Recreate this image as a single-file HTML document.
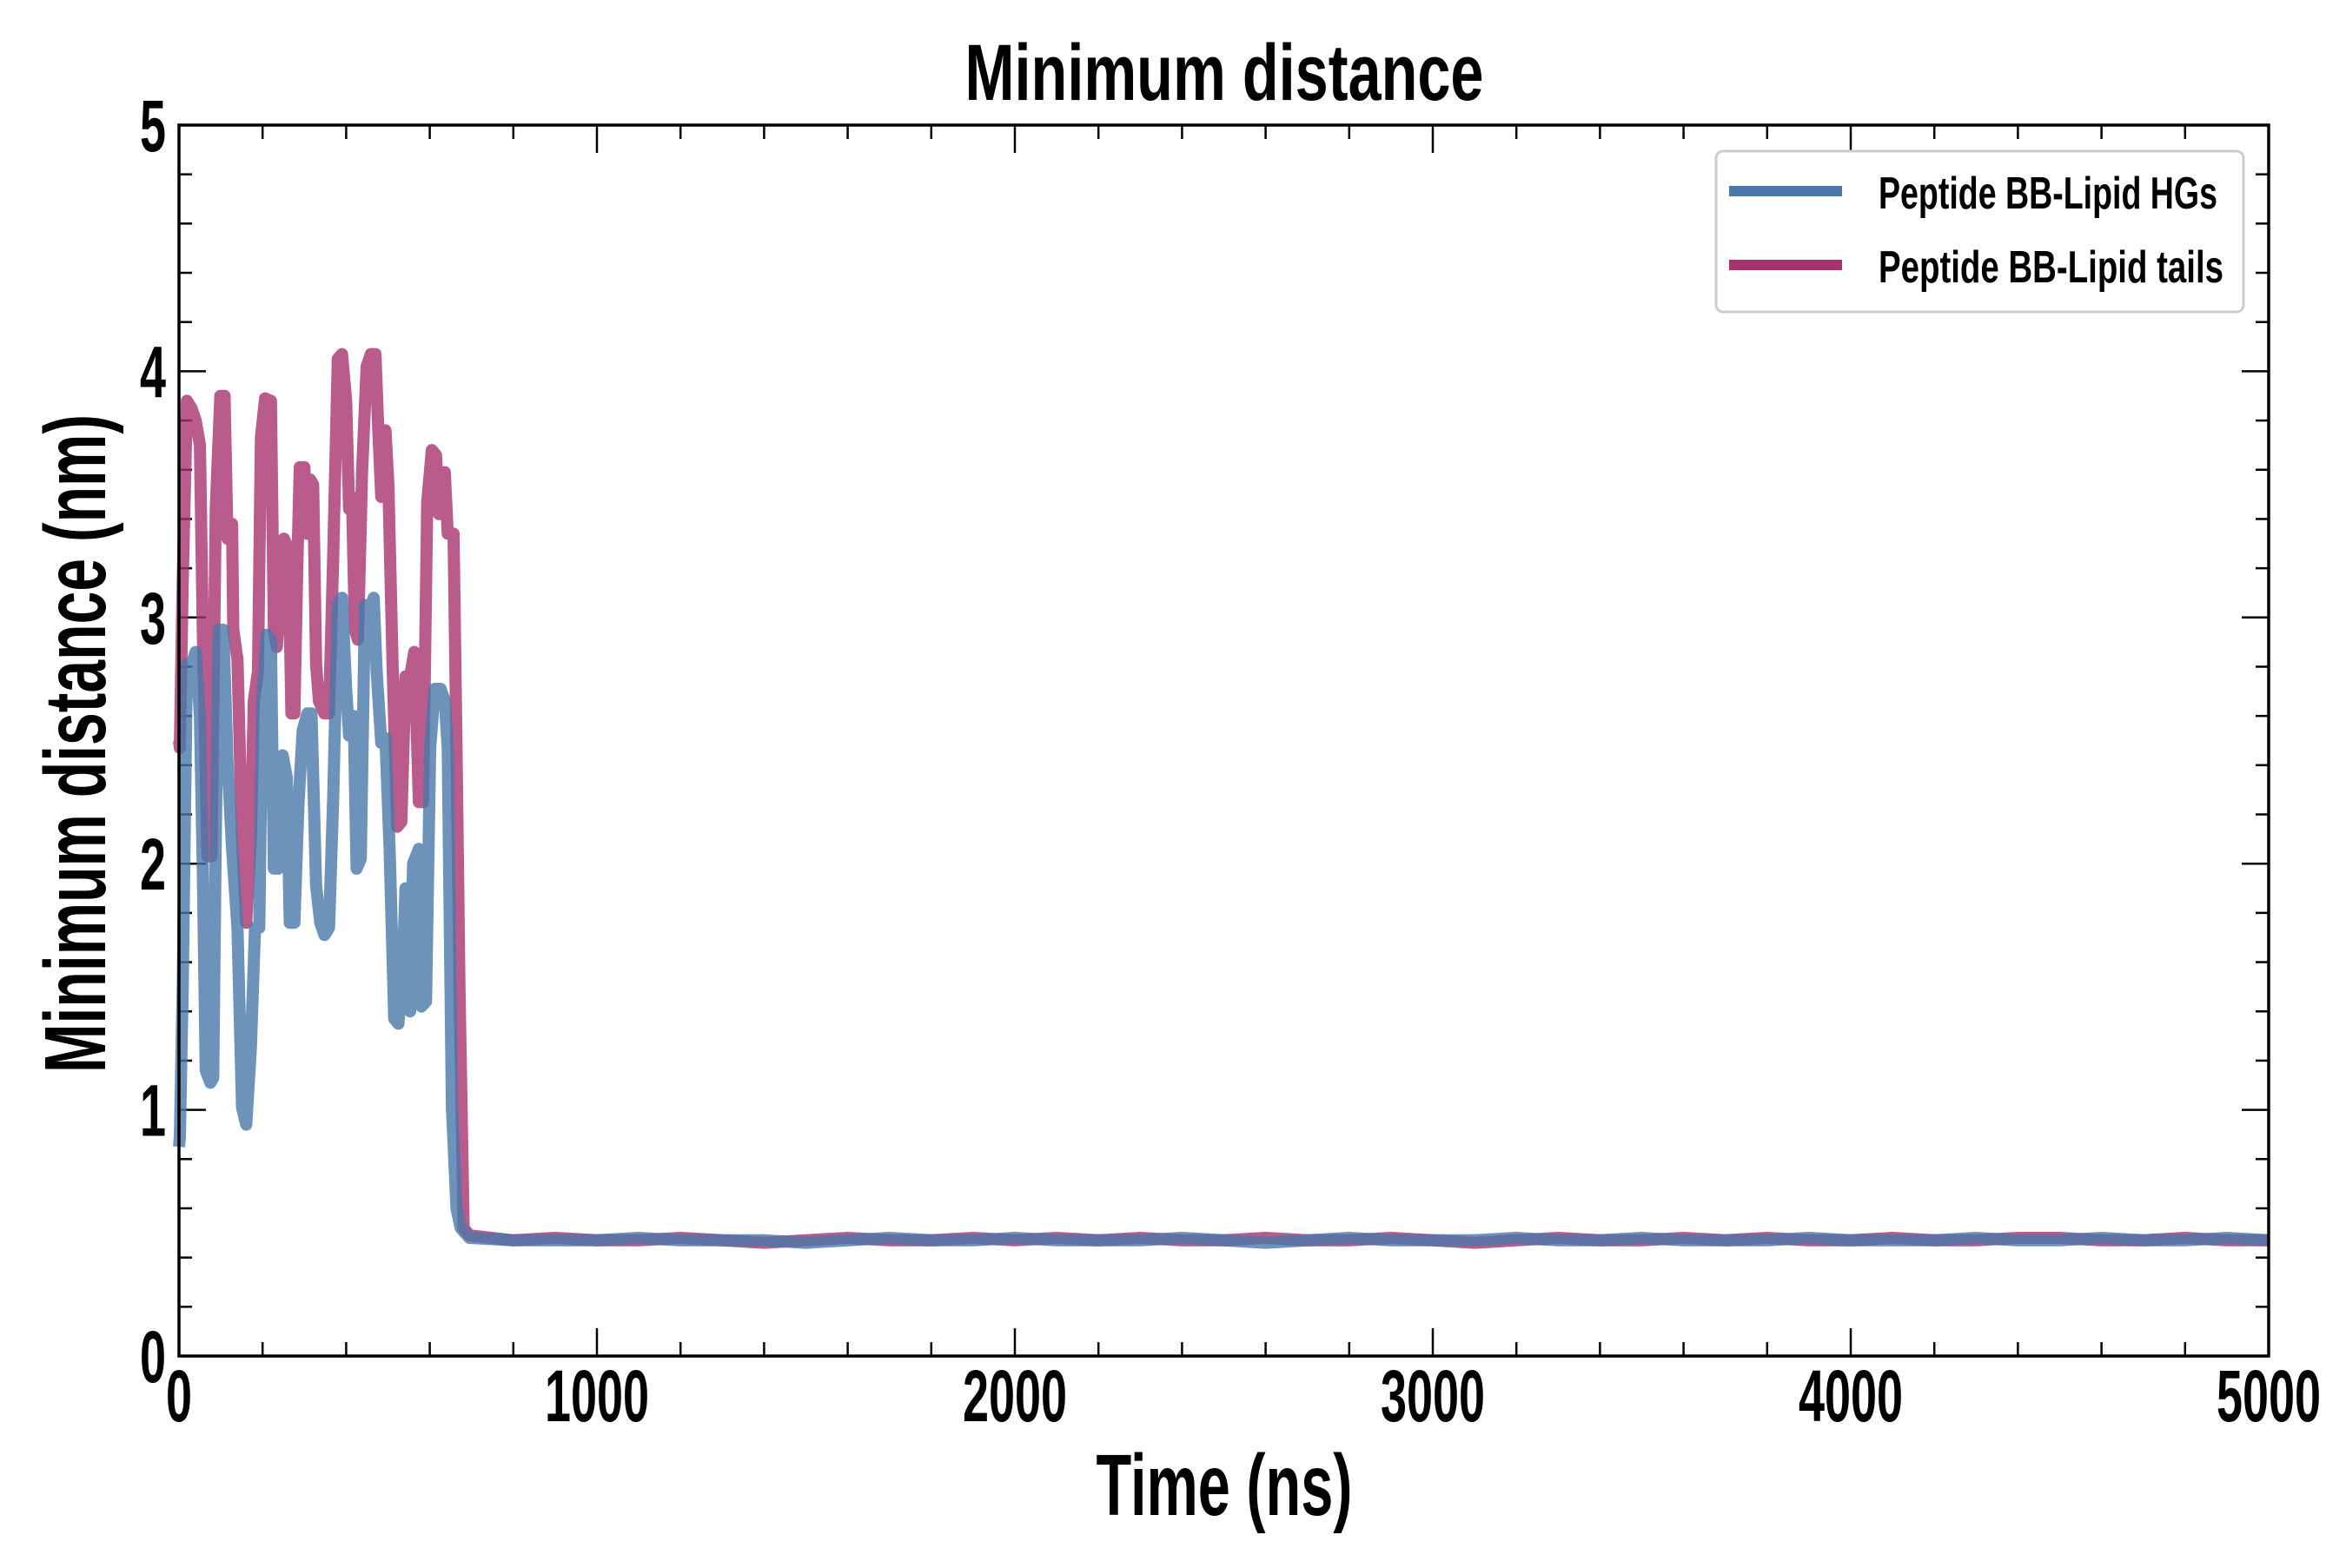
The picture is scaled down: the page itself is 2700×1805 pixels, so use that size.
<!DOCTYPE html>
<html><head><meta charset="utf-8"><style>
html,body{margin:0;padding:0;background:#fff;}
svg text{font-family:"Liberation Sans Narrow","Liberation Sans",sans-serif;font-weight:bold;fill:#000;}
</style></head><body>
<svg id="chart" width="2700" height="1800" viewBox="0 0 2700 1800" xmlns="http://www.w3.org/2000/svg">
<rect x="0" y="0" width="2700" height="1800" fill="#fff"/>
<text x="1409" y="115" text-anchor="middle" font-size="92" textLength="597" lengthAdjust="spacingAndGlyphs">Minimum distance</text>
<text x="1409" y="1744" text-anchor="middle" font-size="100" textLength="295" lengthAdjust="spacingAndGlyphs">Time (ns)</text>
<text transform="translate(121,856) rotate(-90)" text-anchor="middle" font-size="100" textLength="758" lengthAdjust="spacingAndGlyphs">Minimum distance (nm)</text>
<g id="ticks"></g>
<g id="series"></g>
<rect x="206" y="144" width="2405" height="1417" fill="none" stroke="#000" stroke-width="3.5"/>
<g>
<rect x="1975" y="174" width="607" height="185" rx="8" fill="#fff" stroke="#ccc" stroke-width="3"/>
<line x1="1990" y1="220" x2="2120" y2="220" stroke="#4a78aa" stroke-width="12"/>
<text x="2162" y="240" font-size="52" textLength="390" lengthAdjust="spacingAndGlyphs">Peptide BB-Lipid HGs</text>
<line x1="1990" y1="305" x2="2120" y2="305" stroke="#a8326e" stroke-width="12"/>
<text x="2162" y="325" font-size="52" textLength="397" lengthAdjust="spacingAndGlyphs">Peptide BB-Lipid tails</text>
</g>
</svg>
<script>
const xTicks=[0,1000,2000,3000,4000,5000];
const yTicks=[0,1,2,3,4,5];
const earlyTimesTails=[0,2,9,19,30,40,50,57,68,78,88,99,109,116,127,130,140,151,161,172,179,189,196,206,220,227,234,244,251,262,269,276,283,289,300,307,314,321,328,335,348,359,369,380,390,400,407,414,421,428,438,449,459,470,477,484,494,501,511,522,532,542,553,563,574,584,594,605,615,622,636,643,657,664,671,681,695];
const earlyTails=[2.5,2.47,3.15,3.88,3.85,3.8,3.7,2.95,2.03,2.03,3.44,3.9,3.9,3.32,3.38,2.95,2.83,2.1,1.76,2.1,2.66,2.78,3.73,3.89,3.88,2.95,2.88,3.1,3.32,3.28,2.61,2.61,3.2,3.61,3.61,3.34,3.56,3.54,2.81,2.66,2.61,2.61,3.25,4.05,4.07,3.88,3.44,3.49,2.95,2.91,3.59,4.02,4.07,4.07,3.76,3.49,3.76,3.54,2.81,2.15,2.17,2.76,2.76,2.86,2.25,2.25,3.47,3.68,3.66,3.42,3.59,3.34,3.34,2.47,1.5,0.52,0.49];
const earlyTimesHGs=[0,2,9,19,30,40,50,57,64,75,82,88,95,106,116,127,140,151,161,172,182,192,199,210,220,227,237,248,258,265,276,286,296,307,317,328,338,348,359,369,380,390,400,407,418,425,435,445,456,466,473,484,494,504,515,525,535,542,553,560,574,580,591,601,612,626,636,643,653,664,674,695];
const earlyHGs=[0.85,0.89,1.5,2.81,2.81,2.86,2.6,1.98,1.16,1.11,1.13,2.1,2.95,2.95,2.42,2.06,1.74,1.01,0.94,1.25,1.74,1.74,2.66,2.93,2.91,1.98,1.98,2.44,2.35,1.76,1.76,2.25,2.54,2.61,2.61,1.91,1.76,1.71,1.74,2.27,3.05,3.08,2.71,2.52,2.6,1.98,2.02,3.05,3.03,3.08,2.78,2.49,2.51,2.06,1.37,1.35,1.55,1.9,1.4,2.0,2.06,1.42,1.44,2.47,2.71,2.71,2.66,2.47,1.01,0.6,0.52,0.48];
const lateTimes=[800,900,1000,1100,1200,1300,1400,1500,1600,1700,1800,1900,2000,2100,2200,2300,2400,2500,2600,2700,2800,2900,3000,3100,3200,3300,3400,3500,3600,3700,3800,3900,4000,4100,4200,4300,4400,4500,4600,4700,4800,4900,5000];
const lateTails=[0.47,0.48,0.47,0.47,0.48,0.47,0.46,0.47,0.48,0.47,0.47,0.48,0.47,0.48,0.47,0.48,0.47,0.47,0.48,0.47,0.47,0.48,0.47,0.46,0.47,0.48,0.47,0.47,0.48,0.47,0.48,0.47,0.47,0.48,0.47,0.47,0.48,0.48,0.47,0.47,0.48,0.47,0.47];
const lateHGs=[0.47,0.47,0.47,0.48,0.47,0.47,0.47,0.46,0.47,0.48,0.47,0.47,0.48,0.47,0.47,0.47,0.48,0.47,0.46,0.47,0.48,0.47,0.47,0.47,0.48,0.47,0.47,0.48,0.47,0.47,0.47,0.48,0.47,0.47,0.47,0.48,0.47,0.47,0.48,0.47,0.47,0.48,0.47];

const NS='http://www.w3.org/2000/svg';
const L=206,R=2611,T=144,B=1561;
function xs(v){return L+(v/5000)*(R-L);}
function ys(v){return B-(v/5)*(B-T);}
const tg=document.getElementById('ticks');
function line(x1,y1,x2,y2,w){const l=document.createElementNS(NS,'line');l.setAttribute('x1',x1);l.setAttribute('y1',y1);l.setAttribute('x2',x2);l.setAttribute('y2',y2);l.setAttribute('stroke','#000');l.setAttribute('stroke-width',w);tg.appendChild(l);return l;}
for(let v=0;v<=5000;v+=200){const x=xs(v);const major=v%1000===0;const len=major?32:16;
 const a=line(x,B,x,B-len,2.5);
 
 
 const b=line(x,T,x,T+len,2.5);
 
 }
for(let i=0;i<=25;i++){const v=i*0.2;const y=ys(v);const major=i%5===0;const len=major?31:15;
 const a=line(L,y,L+len,y,2.5);
 
 
 const b=line(R,y,R-len,y,2.5);
 
 }
xTicks.forEach(v=>{const t=document.createElementNS(NS,'text');t.setAttribute('x',xs(v));t.setAttribute('y',1636);t.setAttribute('text-anchor','middle');t.setAttribute('font-size','84');
 t.setAttribute('textLength',String(v).length*30);t.setAttribute('lengthAdjust','spacingAndGlyphs');t.textContent=v;
 
 
 tg.appendChild(t);});
yTicks.forEach(v=>{const t=document.createElementNS(NS,'text');t.setAttribute('x',191);t.setAttribute('y',ys(v)+30);t.setAttribute('text-anchor','end');t.setAttribute('font-size','84');
 t.setAttribute('textLength','30');t.setAttribute('lengthAdjust','spacingAndGlyphs');t.textContent=v;
 
 
 tg.appendChild(t);});
const sg=document.getElementById('series');
function path(times,vals,color,name){const d=times.map((t,i)=>(i?'L':'M')+xs(t).toFixed(1)+','+ys(vals[i]).toFixed(1)).join(' ');
 const p=document.createElementNS(NS,'path');p.setAttribute('d',d);p.setAttribute('fill','none');p.setAttribute('stroke',color);p.setAttribute('stroke-width','14');p.setAttribute('stroke-linejoin','round');p.setAttribute('stroke-opacity','0.8');
 
 
 sg.appendChild(p);}
path(earlyTimesTails.concat(lateTimes),earlyTails.concat(lateTails),'#a8326e','series-lipid-tails');
path(earlyTimesHGs.concat(lateTimes),earlyHGs.concat(lateHGs),'#4a78aa','series-lipid-hgs');
</script>
</body></html>
